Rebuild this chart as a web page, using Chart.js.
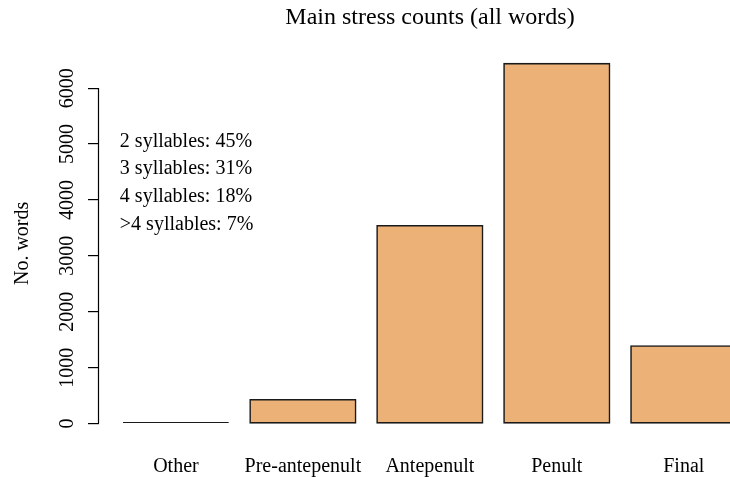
<!DOCTYPE html>
<html>
<head>
<meta charset="utf-8">
<script src="https://cdn.jsdelivr.net/npm/chart.js@4/dist/chart.umd.min.js"></script>
<style>
  html, body { margin: 0; padding: 0; background: #fff; overflow: hidden; }
  /* the plot region runs past the right edge of the page, as in the R figure */
  #wrap { width: 730px; height: 477px; overflow: hidden; }
</style>
</head>
<body>
<div id="wrap"><canvas id="myChart" width="761" height="477"></canvas></div>
<script>
// chart data
var stressPositions = ['Other', 'Pre-antepenult', 'Antepenult', 'Penult', 'Final'];
var wordCounts = [30, 428, 3540, 6440, 1390];
var yTickValues = [0, 1000, 2000, 3000, 4000, 5000, 6000];
var syllableLabels = ['2 syllables', '3 syllables', '4 syllables', '>4 syllables'];
var syllableShares = [45, 31, 18, 7];

// bar centres like R's barplot (width 1, space 0.2)
var barCentres = stressPositions.map(function (c, i) { return 0.7 + 1.2 * i; });

var serif = '"Liberation Serif", "Times New Roman", serif';

// axis line only from first to last tick, like R
var axisLine = {
    id: 'axisLine',
    afterDraw: function (chart) {
        var ctx = chart.ctx;
        var y = chart.scales.y;
        ctx.save();
        ctx.strokeStyle = '#000';
        ctx.lineWidth = 1.2;
        ctx.beginPath();
        ctx.moveTo(y.right - 0.5, y.getPixelForValue(yTickValues[0]));
        ctx.lineTo(y.right - 0.5, y.getPixelForValue(yTickValues[yTickValues.length - 1]));
        ctx.stroke();
        ctx.restore();
    }
};

// syllable share notes in the upper left
var notes = {
    id: 'notes',
    afterDraw: function (chart) {
        var ctx = chart.ctx;
        var xs = chart.scales.x, ys = chart.scales.y;
        ctx.save();
        ctx.fillStyle = '#000';
        ctx.font = '20px ' + serif;
        ctx.textAlign = 'left';
        ctx.textBaseline = 'middle';
        syllableLabels.forEach(function (lab, i) {
            ctx.fillText(lab + ': ' + syllableShares[i] + '%',
                xs.getPixelForValue(0.17), ys.getPixelForValue(5050 - 500 * i));
        });
        ctx.restore();
    }
};

var ctx = document.getElementById('myChart').getContext('2d');
var myChart = new Chart(ctx, {
    type: 'bar',
    data: {
        datasets: [{
            label: 'No. words',
            data: wordCounts.map(function (v, i) { return { x: barCentres[i], y: v }; }),
            backgroundColor: '#EBB176',
            borderColor: '#1a1a1a',
            borderWidth: 1.6,
            borderSkipped: false,
            // tiny bars stay a plain dark line
            inflateAmount: function (c) { return c.raw && c.raw.y < 100 ? 0 : 0.7; },
            categoryPercentage: 1,
            barPercentage: 1 / 1.2
        }]
    },
    options: {
        responsive: false,
        animation: false,
        layout: { padding: 0 },
        plugins: {
            legend: { display: false },
            tooltip: { enabled: false },
            title: {
                display: true,
                fullSize: false,
                text: 'Main stress counts (all words)',
                color: '#000',
                font: { family: serif, size: 24, weight: 'normal' },
                padding: { top: 3, bottom: 17 }
            }
        },
        scales: {
            x: {
                type: 'linear',
                offset: false,
                min: -0.027,
                max: 6.23,
                grid: { display: false, drawTicks: false },
                border: { display: false },
                afterBuildTicks: function (axis) {
                    axis.ticks = barCentres.map(function (v) { return { value: v }; });
                },
                afterFit: function (axis) { axis.height = 39; },
                ticks: {
                    autoSkip: false,
                    maxRotation: 0,
                    padding: 17,
                    color: '#000',
                    font: { family: serif, size: 20 },
                    callback: function (value, index) { return stressPositions[index]; }
                }
            },
            y: {
                min: -258,
                max: 6704,
                grid: { drawOnChartArea: false, drawTicks: true, tickLength: 11, lineWidth: 1.2, color: '#000' },
                border: { display: false },
                afterBuildTicks: function (axis) {
                    axis.ticks = yTickValues.map(function (v) { return { value: v }; });
                },
                afterFit: function (axis) { axis.width = 99; },
                title: {
                    display: true,
                    text: 'No. words',
                    color: '#000',
                    font: { family: serif, size: 20 },
                    padding: { top: 11, bottom: 0 }
                },
                ticks: {
                    minRotation: 90,
                    maxRotation: 90,
                    crossAlign: 'center',
                    padding: 0,
                    color: '#000',
                    font: { family: serif, size: 20 },
                    callback: function (value) { return String(value); }
                }
            }
        }
    },
    plugins: [axisLine, notes]
});
</script>
</body>
</html>
